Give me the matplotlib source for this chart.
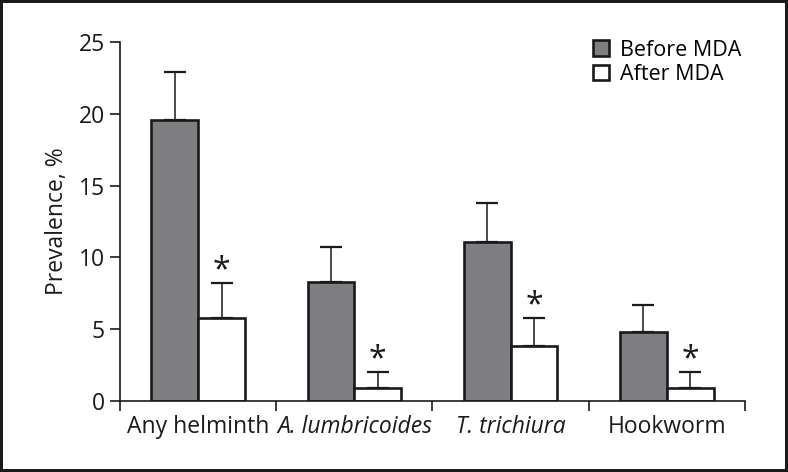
import numpy as np
import matplotlib.pyplot as plt
from matplotlib.patches import Patch

plt.rcParams['font.family'] = ['Open Sans', 'DejaVu Sans']

# ---- Data ------------------------------------------------------------------
categories = ["Any helminth", "A. lumbricoides", "T. trichiura", "Hookworm"]
italic = [False, True, True, False]
before = [19.6, 8.3, 11.1, 4.8]
before_err = [3.3, 2.4, 2.7, 1.9]
after = [5.8, 0.9, 3.8, 0.9]
after_err = [2.4, 1.1, 2.0, 1.1]
significant = [True, True, True, True]

GRAY = "#7f7f83"
INK = "#1a1a1a"
FS = 16.5

# ---- Plot ------------------------------------------------------------------
fig = plt.figure(figsize=(7.88, 4.72), dpi=100, linewidth=3, edgecolor=INK)
ax = fig.add_axes([0.1523, 0.1504, 0.7931, 0.7606])

x = np.arange(len(categories)) + 0.5
w = 0.3
ekw = dict(elinewidth=1.1, capthick=1.6, ecolor=INK)

ax.bar(x - w / 2, before, w, color=GRAY, edgecolor=INK, linewidth=1.9,
       yerr=[np.zeros(len(before)), before_err], capsize=8, error_kw=ekw,
       label="Before MDA", zorder=2)
ax.bar(x + w / 2, after, w, color="white", edgecolor=INK, linewidth=1.9,
       yerr=[np.zeros(len(after)), after_err], capsize=8, error_kw=ekw,
       label="After MDA", zorder=2)

for xi, a, e, s in zip(x, after, after_err, significant):
    if s:
        ax.annotate("*", (xi + w / 2, a + e), xytext=(0, -3), textcoords="offset points",
                    ha="center", va="bottom", fontsize=23, color=INK)

ax.set_xlim(0, len(categories))
ax.set_ylim(0, 25)
ax.set_yticks(range(0, 26, 5))
ax.set_xticks(range(len(categories) + 1))
ax.set_xticklabels([])
for xi, name, it in zip(x, categories, italic):
    ax.text(xi, -1.0, name, ha="center", va="top", fontsize=FS,
            style="italic" if it else "normal", color=INK)

for side in ["top", "right"]:
    ax.spines[side].set_visible(False)
for side in ["left", "bottom"]:
    ax.spines[side].set_linewidth(1.2)
    ax.spines[side].set_color(INK)
ax.tick_params(axis="both", direction="out", length=7, width=1.2, color=INK,
               labelsize=FS, labelcolor=INK, pad=4)
ax.set_ylabel("Prevalence, %", fontsize=FS, color=INK, labelpad=7)

handles = [Patch(facecolor=GRAY, edgecolor=INK, linewidth=1.9, label="Before MDA"),
           Patch(facecolor="white", edgecolor=INK, linewidth=1.9, label="After MDA")]
ax.legend(handles=handles, loc="upper right", bbox_to_anchor=(1.008, 1.03), frameon=False,
          fontsize=15.5, handlelength=0.75, handleheight=0.75, handletextpad=0.5,
          labelspacing=0.15, borderaxespad=0)

fig.savefig("out.png", dpi=100, facecolor="white", edgecolor=fig.get_edgecolor())
plt.close()
